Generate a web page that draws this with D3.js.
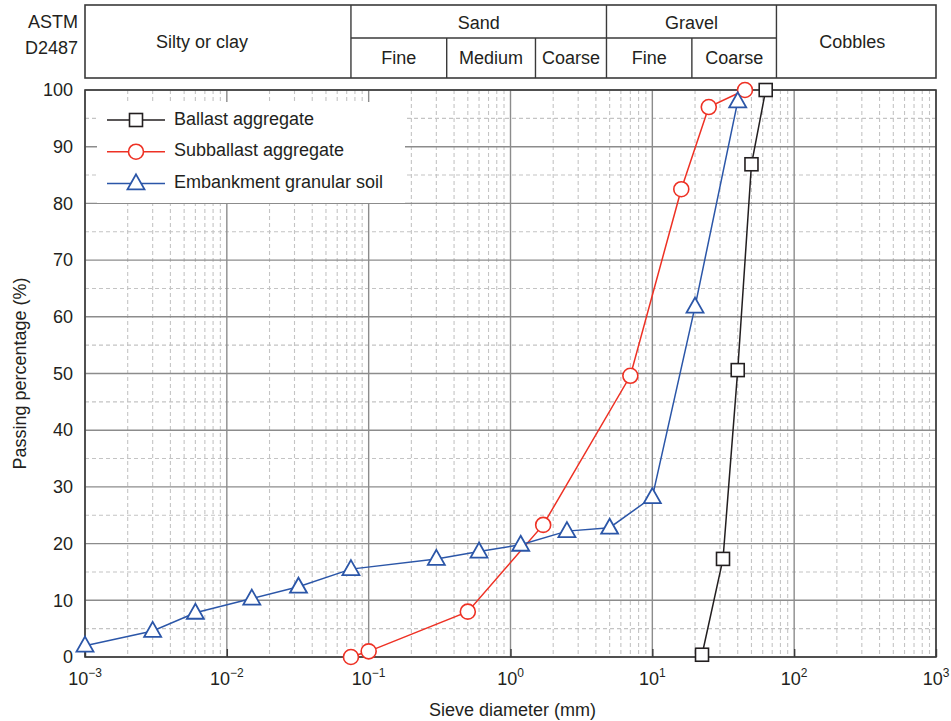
<!DOCTYPE html>
<html>
<head>
<meta charset="utf-8">
<script src="https://cdn.jsdelivr.net/npm/d3@7"></script>
<style>
  body { margin: 0; background: #fff; }
  text { font-family: "Liberation Sans", Arial, Helvetica, sans-serif; fill: #231f20; }
</style>
</head>
<body>
<svg id="chart" width="951" height="721"></svg>
<script>
// Grain size distributions: sieve diameter (mm) and passing percentage (%)
const ballastSize = [22.4, 31.5, 40, 50, 63];
const ballastPass = [0.4, 17.3, 50.6, 86.9, 100];

const subballastSize = [0.075, 0.1, 0.5, 1.7, 7, 16, 25, 45];
const subballastPass = [0, 1, 8, 23.3, 49.6, 82.5, 97, 100];

const embankmentSize = [0.001, 0.003, 0.006, 0.015, 0.032, 0.075, 0.3, 0.6, 1.18, 2.5, 5, 10, 20, 40];
const embankmentPass = [2, 4.6, 7.8, 10.3, 12.4, 15.5, 17.3, 18.6, 19.8, 22.2, 22.8, 28.2, 61.8, 98];

const seriesNames = ["Ballast aggregate", "Subballast aggregate", "Embankment granular soil"];
const seriesColors = ["#231f20", "#ee3124", "#2b56a8"];

// Axis ticks
const xTickExponents = [-3, -2, -1, 0, 1, 2, 3];
const yTickValues = [0, 10, 20, 30, 40, 50, 60, 70, 80, 90, 100];

// ASTM D2487 soil classes (limits in mm)
const classGroups = ["Sand", "Gravel"];
const classGroupFrom = [0.075, 4.75];
const classGroupTo = [4.75, 75];
const classCells = ["Silty or clay", "Fine", "Medium", "Coarse", "Fine", "Coarse", "Cobbles"];
const classCellFrom = [0.001, 0.075, 0.355, 1.5, 4.75, 19, 75];
const classCellTo = [0.075, 0.355, 1.5, 4.75, 19, 75, 1000];
const classStandard = ["ASTM", "D2487"];

const svg = d3.select("#chart");
const margin = { left: 85, right: 15, top: 90, bottom: 64 };
const W = 951, H = 721;
const plotLeft = margin.left, plotRight = W - margin.right;
const plotTop = margin.top, plotBottom = H - margin.bottom;

const x = d3.scaleLog().domain([1e-3, 1e3]).range([plotLeft, plotRight]);
const y = d3.scaleLinear().domain([0, 100]).range([plotBottom, plotTop]);

const FONT = 18;

// ---------- Classification header ----------
const headTop = 5, headMid = 38, headBottom = 78;
const head = svg.append("g");
head.append("rect")
  .attr("x", plotLeft).attr("y", headTop)
  .attr("width", plotRight - plotLeft).attr("height", headBottom - headTop)
  .attr("fill", "none").attr("stroke", "#3a3a3a").attr("stroke-width", 1.6);

// group divider under Sand / Gravel
head.append("line")
  .attr("x1", x(classGroupFrom[0])).attr("x2", x(classGroupTo[classGroupTo.length - 1]))
  .attr("y1", headMid).attr("y2", headMid)
  .attr("stroke", "#3a3a3a").attr("stroke-width", 1.4);

// cell dividers
classCellFrom.slice(1).forEach(v => {
  const isGroupEdge = classGroupFrom.includes(v) || v === classGroupTo[classGroupTo.length - 1];
  head.append("line")
    .attr("x1", x(v)).attr("x2", x(v))
    .attr("y1", isGroupEdge ? headTop : headMid).attr("y2", headBottom)
    .attr("stroke", "#3a3a3a").attr("stroke-width", 1.4);
});

classGroups.forEach((g, i) => {
  head.append("text")
    .attr("x", (x(classGroupFrom[i]) + x(classGroupTo[i])) / 2)
    .attr("y", (headTop + headMid) / 2 + 2.5)
    .attr("text-anchor", "middle").attr("dominant-baseline", "middle")
    .attr("font-size", FONT).text(g);
});

classCells.forEach((c, i) => {
  const inGroup = classGroupFrom.some((f, j) => classCellFrom[i] >= f && classCellTo[i] <= classGroupTo[j]);
  let cx = (x(classCellFrom[i]) + x(classCellTo[i])) / 2;
  if (i === 0) cx -= 16;
  if (i === classCells.length - 1) cx -= 4;
  head.append("text")
    .attr("x", cx)
    .attr("y", inGroup ? (headMid + headBottom) / 2 + 1.5 : (headTop + headBottom) / 2 + 1.5)
    .attr("text-anchor", "middle").attr("dominant-baseline", "middle")
    .attr("font-size", FONT).text(c);
});

classStandard.forEach((s, i) => {
  head.append("text")
    .attr("x", 78).attr("y", 23 + i * 26)
    .attr("text-anchor", "end").attr("dominant-baseline", "middle")
    .attr("font-size", FONT).text(s);
});

// ---------- Grid ----------
const grid = svg.append("g");
const minorX = [];
for (let e = -3; e < 3; e++) {
  for (let k = 2; k <= 9; k++) minorX.push(k * Math.pow(10, e));
}
const minorY = d3.range(5, 100, 10);

grid.selectAll(".minx").data(minorX).join("line")
  .attr("x1", d => x(d)).attr("x2", d => x(d))
  .attr("y1", plotTop).attr("y2", plotBottom)
  .attr("stroke", "#c4c4c4").attr("stroke-width", 1.1).attr("stroke-dasharray", "4,3");

grid.selectAll(".miny").data(minorY).join("line")
  .attr("x1", plotLeft).attr("x2", plotRight)
  .attr("y1", d => y(d)).attr("y2", d => y(d))
  .attr("stroke", "#c4c4c4").attr("stroke-width", 1.1).attr("stroke-dasharray", "4,3");

grid.selectAll(".majx").data(xTickExponents).join("line")
  .attr("x1", d => x(Math.pow(10, d))).attr("x2", d => x(Math.pow(10, d)))
  .attr("y1", plotTop).attr("y2", plotBottom)
  .attr("stroke", "#8c8c8c").attr("stroke-width", 1.4);

grid.selectAll(".majy").data(yTickValues).join("line")
  .attr("x1", plotLeft).attr("x2", plotRight)
  .attr("y1", d => y(d)).attr("y2", d => y(d))
  .attr("stroke", "#8c8c8c").attr("stroke-width", 1.4);

// ---------- Legend background (hides grid) ----------
const legend = svg.append("g");
legend.append("rect")
  .attr("x", plotLeft + 12).attr("y", plotTop + 12)
  .attr("width", 308).attr("height", 101)
  .attr("fill", "#fff");

// ---------- Axes ----------
const xAxis = d3.axisBottom(x)
  .tickValues(xTickExponents.map(e => Math.pow(10, e)))
  .tickSize(-8).tickPadding(0).tickFormat("");
svg.append("g").attr("transform", `translate(0,${plotBottom})`).call(xAxis)
  .call(g => g.select(".domain").remove())
  .call(g => g.selectAll(".tick line").attr("stroke", "#3a3a3a").attr("stroke-width", 1.4));

const yAxis = d3.axisLeft(y).tickValues(yTickValues).tickSize(0).tickPadding(12);
svg.append("g").attr("transform", `translate(${plotLeft},0)`).call(yAxis)
  .call(g => g.select(".domain").remove())
  .call(g => g.selectAll(".tick text")
    .attr("font-size", FONT).attr("fill", "#231f20")
    .attr("font-family", '"Liberation Sans", Arial, sans-serif'));

// x tick labels as powers of ten
const xLab = svg.append("g");
xTickExponents.forEach(e => {
  const t = xLab.append("text")
    .attr("x", x(Math.pow(10, e))).attr("y", plotBottom + 28)
    .attr("text-anchor", "middle").attr("font-size", FONT);
  t.append("tspan").text("10");
  t.append("tspan").attr("dy", -8).attr("font-size", 12)
    .text(e < 0 ? "\u2212" + Math.abs(e) : String(e));
});

// frame
svg.append("rect")
  .attr("x", plotLeft).attr("y", plotTop)
  .attr("width", plotRight - plotLeft).attr("height", plotBottom - plotTop)
  .attr("fill", "none").attr("stroke", "#3a3a3a").attr("stroke-width", 1.6);

// axis titles
svg.append("text")
  .attr("x", (plotLeft + plotRight) / 2 + 2).attr("y", 716)
  .attr("text-anchor", "middle").attr("font-size", FONT)
  .text("Sieve diameter (mm)");
svg.append("text")
  .attr("transform", `translate(26,${(plotTop + plotBottom) / 2}) rotate(-90)`)
  .attr("text-anchor", "middle").attr("font-size", FONT)
  .text("Passing percentage (%)");

// ---------- Series ----------
const series = [
  { name: seriesNames[0], color: seriesColors[0], size: ballastSize, pass: ballastPass, shape: "square" },
  { name: seriesNames[1], color: seriesColors[1], size: subballastSize, pass: subballastPass, shape: "circle" },
  { name: seriesNames[2], color: seriesColors[2], size: embankmentSize, pass: embankmentPass, shape: "triangle" }
];

function drawMarker(g, shape, color, cx, cy) {
  if (shape === "square") {
    g.append("rect").attr("x", cx - 6.5).attr("y", cy - 6.5)
      .attr("width", 13).attr("height", 13)
      .attr("fill", "#fff").attr("stroke", color).attr("stroke-width", 1.6);
  } else if (shape === "circle") {
    g.append("circle").attr("cx", cx).attr("cy", cy).attr("r", 7.5)
      .attr("fill", "#fff").attr("stroke", color).attr("stroke-width", 1.6);
  } else {
    const hw = 8.5, h = 15;
    g.append("path")
      .attr("d", `M${cx},${cy - h * 0.6}L${cx + hw},${cy + h * 0.4}L${cx - hw},${cy + h * 0.4}Z`)
      .attr("fill", "#fff").attr("stroke", color).attr("stroke-width", 1.8)
      .attr("stroke-linejoin", "miter");
  }
}

const line = d3.line().x(d => x(d[0])).y(d => y(d[1]));
const plot = svg.append("g");
series.forEach(s => {
  const pts = s.size.map((v, i) => [v, s.pass[i]]);
  plot.append("path").attr("d", line(pts))
    .attr("fill", "none").attr("stroke", s.color).attr("stroke-width", 1.5);
});
series.forEach(s => {
  const g = plot.append("g");
  s.size.forEach((v, i) => drawMarker(g, s.shape, s.color, x(v), y(s.pass[i])));
});

// ---------- Legend entries ----------
series.forEach((s, i) => {
  const ly = plotTop + 30 + i * 31.7;
  legend.append("line")
    .attr("x1", plotLeft + 22).attr("x2", plotLeft + 80)
    .attr("y1", ly).attr("y2", ly)
    .attr("stroke", s.color).attr("stroke-width", 1.5);
  drawMarker(legend, s.shape, s.color, plotLeft + 51, ly);
  legend.append("text")
    .attr("x", plotLeft + 89).attr("y", ly)
    .attr("dominant-baseline", "middle").attr("font-size", FONT)
    .text(s.name);
});
</script>
</body>
</html>
